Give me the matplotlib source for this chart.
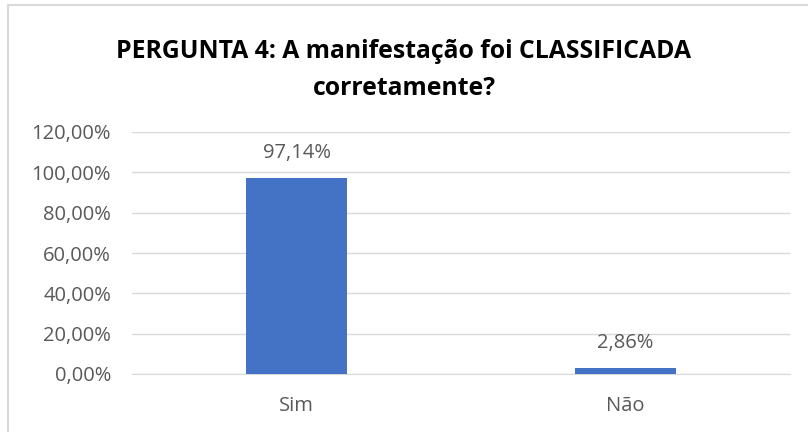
import matplotlib.pyplot as plt
from matplotlib.lines import Line2D
from matplotlib.ticker import FuncFormatter

categories = ['Sim', 'Não']
values = [97.14, 2.86]
title = 'PERGUNTA 4: A manifestação foi CLASSIFICADA\ncorretamente?'

plt.rcParams['font.family'] = ['Open Sans', 'DejaVu Sans']
text_color = '#595959'
W, H = 808, 432

fig = plt.figure(figsize=(W / 100, H / 100), dpi=100)
ax = fig.add_axes([132 / W, 58 / H, 658 / W, 242 / H])

x = range(len(categories))
ax.bar(x, values, width=0.31, color='#4472C4', zorder=3)
for xi, v in zip(x, values):
    ax.annotate(f'{v:.2f}%'.replace('.', ','), (xi, v), xytext=(0, 18),
                textcoords='offset points', ha='center', va='center',
                fontsize=14.5, color=text_color)

ax.set_xlim(-0.5, 1.5)
ax.set_ylim(0, 120)
ax.set_yticks(range(0, 121, 20))
ax.yaxis.set_major_formatter(FuncFormatter(lambda v, p: f'{v:.2f}%'.replace('.', ',')))
ax.set_xticks(list(x))
ax.set_xticklabels(categories)
ax.tick_params(axis='both', length=0, labelsize=14.5, labelcolor=text_color)
ax.tick_params(axis='y', pad=15)
ax.tick_params(axis='x', pad=15.5)
ax.yaxis.grid(True, color='#D9D9D9', linewidth=1, zorder=0)
for side in ['top', 'right', 'left']:
    ax.spines[side].set_visible(False)
ax.spines['bottom'].set_color('#D9D9D9')

fig.text(0.5, 1 - 70 / H, title, ha='center', va='center', fontsize=17.8,
         fontweight='bold', color='black', linespacing=1.68)

# chart border, only top and left edges fall inside the picture
fig.add_artist(Line2D([8 / W, 8 / W], [0, 1 - 5 / H], transform=fig.transFigure,
                      color='#D9D9D9', linewidth=1.5))
fig.add_artist(Line2D([8 / W, 1], [1 - 5 / H, 1 - 5 / H], transform=fig.transFigure,
                      color='#D9D9D9', linewidth=1.5))

fig.savefig('out.png', dpi=100)
